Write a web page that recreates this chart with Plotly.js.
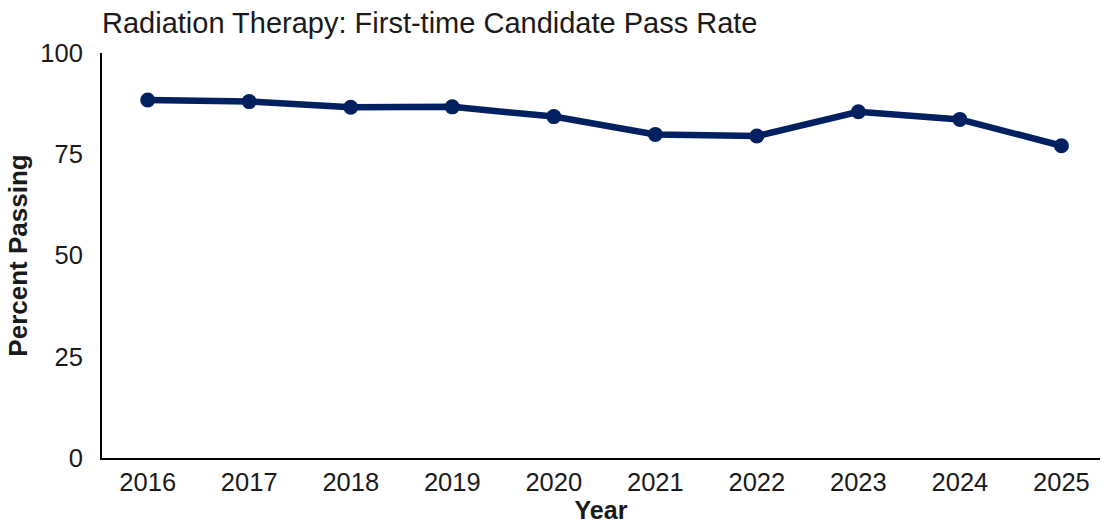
<!DOCTYPE html>
<html>
<head>
<meta charset="utf-8">
<script src="https://cdn.plot.ly/plotly-3.0.1.min.js"></script>
<style>html,body{margin:0;padding:0;background:#fff;}#chart{width:1111px;height:527px;}</style>
</head>
<body>
<div id="chart"></div>
<script>
const years = ["2016","2017","2018","2019","2020","2021","2022","2023","2024","2025"];
const passRate = [88.4, 88.0, 86.6, 86.7, 84.3, 79.9, 79.5, 85.5, 83.6, 77.1];
const yTicks = [0, 25, 50, 75, 100];

const trace = {
  x: years,
  y: passRate,
  type: 'scatter',
  mode: 'lines+markers',
  line: {color: '#002060', width: 6.5},
  marker: {color: '#002060', size: 15},
  hoverinfo: 'x+y'
};

const layout = {
  width: 1111, height: 527,
  margin: {l: 102, r: 11, t: 53, b: 69},
  paper_bgcolor: '#fff', plot_bgcolor: '#fff',
  font: {family: 'Liberation Sans, Arial, sans-serif', color: '#1a1a1a'},
  title: {text: 'Radiation Therapy: First-time Candidate Pass Rate', x: 0, xref: 'paper', xanchor: 'left', y: 0.957, yref: 'container', yanchor: 'middle', font: {size: 29, color: '#1a1a1a'}},
  showlegend: false,
  xaxis: {
    type: 'category',
    range: [-0.45, 9.38],
    showgrid: false, zeroline: false,
    showline: true, linecolor: '#000', linewidth: 2,
    ticks: '', ticklabelstandoff: 0,
    tickfont: {size: 25.5},
    title: {text: '<b>Year</b>', font: {size: 25}, standoff: 5}
  },
  yaxis: {
    range: [0, 100],
    tickvals: yTicks,
    ticktext: yTicks.map(String),
    showgrid: false, zeroline: false,
    showline: true, linecolor: '#000', linewidth: 2,
    ticks: '', ticklabelstandoff: 12,
    tickfont: {size: 25.5},
    title: {text: '<b>Percent Passing</b>', font: {size: 26}, standoff: 5}
  }
};

Plotly.newPlot('chart', [trace], layout, {displayModeBar: false, staticPlot: true});
</script>
</body>
</html>
